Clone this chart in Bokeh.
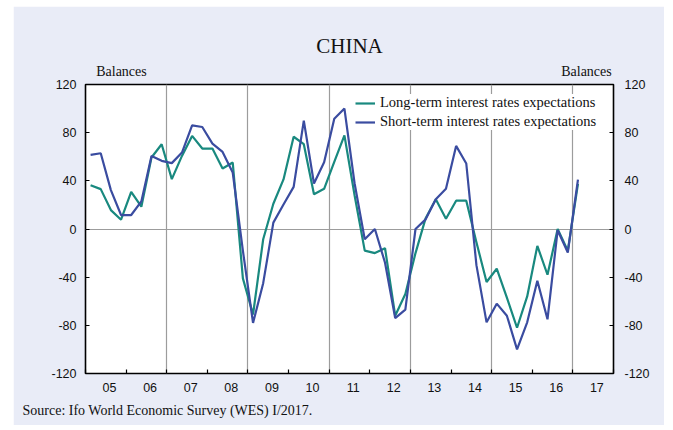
from bokeh.plotting import figure
from bokeh.models import (Range1d, FixedTicker, LinearAxis, Legend, LegendItem, Title, Spacer)
from bokeh.layouts import column, row
from bokeh.embed import file_html
from bokeh.resources import INLINE

# ---- data (quarterly balances, 2005Q1 .. 2017Q1) ----
periods = [f"{y}Q{q}" for y in range(2005, 2018) for q in range(1, 5)][:49]

long_term = [36.4, 33.1, 15.7, 7.7, 30.9, 18.5, 59.4, 70.4, 41.4, 60.7,
             77.3, 66.8, 66.8, 50.2, 55.2, -41.0, -71.0, -8.5, 21.0, 41.2,
             76.6, 70.4, 28.8, 33.4, 55.7, 77.8, 28.0, -18.0, -20.0, -16.0,
             -72.0, -54.0, -20.0, 9.0, 24.7, 8.5, 23.5, 23.5, -11.0, -44.0,
             -33.0, -57.0, -82.0, -56.0, -14.0, -38.0, 0.0, -18.0, 37.5]

short_term = [61.6, 62.9, 32.3, 11.6, 11.6, 22.9, 60.7, 56.6, 54.7, 63.5,
              86.0, 84.7, 70.9, 64.0, 46.9, -18.0, -78.0, -45.0, 5.3, 20.3,
              35.0, 90.0, 37.8, 55.5, 91.6, 100.0, 38.0, -8.5, 0.0, -28.0,
              -74.0, -67.0, 0.0, 8.0, 24.7, 33.4, 69.0, 54.4, -30.0, -77.5,
              -62.0, -72.0, -100.0, -77.5, -43.0, -75.0, -1.0, -19.5, 41.0]

year_labels = ["05", "06", "07", "08", "09", "10", "11", "12", "13", "14", "15", "16", "17"]
first_year = 2005
y_ticks = [-120, -80, -40, 0, 40, 80, 120]
y_tick_labels = ["-120", "-80", "-40", "0", "40", "80", "120"]

series_names = ["Long-term interest rates expectations",
                "Short-term interest rates expectations"]
title_text = "CHINA"
unit_text = "Balances"
source_text = "Source: Ifo World Economic Survey (WES) I/2017."

# ---- derived positions (mid-quarter as decimal year) ----
def period_to_x(p):
    y, q = p.split("Q")
    return int(y) + (int(q) - 1) / 4 + 0.125

xs = [period_to_x(p) for p in periods]
year_starts = [first_year + i for i in range(len(year_labels) + 1)]
# year labels sit slightly right of each year's centre
label_pos = [first_year + i + 0.59 for i in range(len(year_labels))]
# horizontal anchor of the two "Balances" captions (layout, in x units)
unit_pos = [first_year + 0.886, first_year + 12.335]
y_overrides = {v: s for v, s in zip(y_ticks, y_tick_labels)}

TEAL = "#19897f"
BLUE = "#3a4ca0"
BG = "#e9ecf7"
SERIF = "Liberation Serif"
SANS = "Liberation Sans"
INK = "#111111"

p = figure(width=651, height=419, output_backend="svg", toolbar_location=None,
           x_range=Range1d(year_starts[0], year_starts[-1]),
           y_range=Range1d(y_ticks[0], y_ticks[-1]),
           min_border_left=72, min_border_right=51, min_border_top=78, min_border_bottom=52)
p.border_fill_color = BG
p.background_fill_color = "white"
p.outline_line_color = "black"
p.outline_line_width = 1.6

# grids
p.xgrid.ticker = FixedTicker(ticks=year_starts[2:-1:2])
p.ygrid.ticker = FixedTicker(ticks=[0])
for g in (p.xgrid, p.ygrid):
    g.grid_line_color = "#9c9c9c"
    g.grid_line_width = 1.2

def style_axis(ax, standoff):
    ax.axis_line_color = None
    ax.major_label_text_font = SANS
    ax.major_label_text_font_size = "12.5px"
    ax.major_label_text_color = INK
    ax.major_label_standoff = standoff

# bottom axis
xa = p.xaxis[0]
xa.ticker = FixedTicker(ticks=label_pos, minor_ticks=year_starts)
xa.major_label_overrides = {c: l for c, l in zip(label_pos, year_labels)}
style_axis(xa, 9)
xa.major_tick_in = 0
xa.major_tick_out = 0
xa.minor_tick_in = 4
xa.minor_tick_out = 0
xa.minor_tick_line_color = "black"
xa.minor_tick_line_width = 1.2

# left axis
ya = p.yaxis[0]
ya.ticker = FixedTicker(ticks=y_ticks)
ya.major_label_overrides = y_overrides
style_axis(ya, 9)
ya.major_tick_in = 4
ya.major_tick_out = 0
ya.major_tick_line_width = 1.2
ya.minor_tick_line_color = None

# right axis
ra = LinearAxis(ticker=FixedTicker(ticks=y_ticks))
ra.major_label_overrides = y_overrides
style_axis(ra, 11)
ra.major_tick_in = 4
ra.major_tick_out = 0
ra.major_tick_line_width = 1.2
ra.minor_tick_line_color = None
p.add_layout(ra, "right")

# top "axis" carrying the two "Balances" captions
ta = LinearAxis(ticker=FixedTicker(ticks=unit_pos))
ta.major_label_overrides = {v: unit_text for v in unit_pos}
ta.axis_line_color = None
ta.major_tick_line_color = None
ta.minor_tick_line_color = None
ta.major_tick_in = 0
ta.major_tick_out = 0
ta.minor_tick_in = 0
ta.minor_tick_out = 0
ta.major_label_text_font = SERIF
ta.major_label_text_font_size = "14px"
ta.major_label_text_color = INK
ta.major_label_standoff = 6
p.add_layout(ta, "above")

# title
p.title.text = title_text
p.title.align = "center"
p.title.text_font = SERIF
p.title.text_font_size = "21px"
p.title.text_font_style = "normal"
p.title.text_color = INK
p.title.standoff = 6

# source line
p.add_layout(Title(text=source_text, align="left", offset=-63, text_font=SERIF,
                   text_font_size="14px", text_font_style="normal", text_color=INK,
                   standoff=13), "below")

r1 = p.line(xs, long_term, line_color=TEAL, line_width=2.2)
r2 = p.line(xs, short_term, line_color=BLUE, line_width=2.2)

legend = Legend(items=[LegendItem(label=series_names[0], renderers=[r1]),
                       LegendItem(label=series_names[1], renderers=[r2])],
                location=(270, 243))
legend.background_fill_color = "white"
legend.background_fill_alpha = 1.0
legend.border_line_color = None
legend.label_text_font = SERIF
legend.label_text_font_size = "14.5px"
legend.label_text_color = INK
legend.glyph_width = 20
legend.glyph_height = 16
legend.label_height = 16
legend.label_standoff = 5
legend.padding = 3
legend.spacing = 2
legend.margin = 0
p.add_layout(legend, "center")

page = column(Spacer(height=6), row(Spacer(width=13), p))
open("out.html", "w").write(file_html(page, INLINE))
